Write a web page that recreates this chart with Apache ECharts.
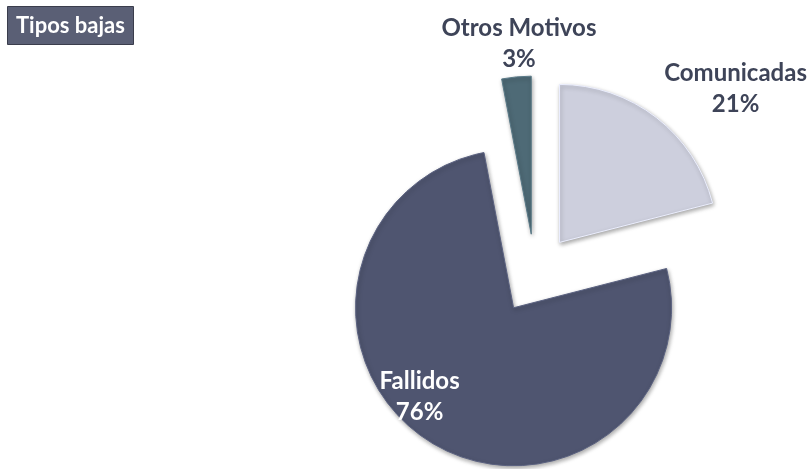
<!DOCTYPE html>
<html>
<head>
<meta charset="utf-8">
<script src="https://cdn.jsdelivr.net/npm/echarts@6/dist/echarts.min.js"></script>
<style>
  html, body { margin: 0; padding: 0; background: #fff; }
  #chart { width: 811px; height: 469px; }
</style>
</head>
<body>
<div id="chart"></div>
<script>
// datos del gráfico
const categories = ['Comunicadas', 'Fallidos', 'Otros Motivos']
const values = [21, 76, 3]
const colors = ['#cdcfdd', '#4f5570', '#4e6a76']
const labelColors = ['#3e4458', '#ffffff', '#3e4458']

// desplazamiento de cada etiqueta
const labelShift = [[35, -17], [-50, 20], [39, -18]]

const chart = echarts.init(document.getElementById('chart'))

chart.setOption({
  animation: false,
  title: {
    text: 'Tipos bajas',
    left: 7,
    top: 6,
    padding: [8, 9, 8, 9],
    backgroundColor: '#5a5f75',
    borderColor: '#3a3d4c',
    borderWidth: 1,
    textStyle: {
      color: '#ffffff',
      fontFamily: 'Lato',
      fontWeight: 'bold',
      fontSize: 22,
      lineHeight: 23
    }
  },
  series: [{
    type: 'pie',
    center: [535, 274],
    radius: 158,
    startAngle: 90,
    clockwise: true,
    selectedMode: 'multiple',
    selectedOffset: 40,
    avoidLabelOverlap: false,
    label: {
      show: true,
      formatter: '{b}\n{d}%',
      fontFamily: 'Lato',
      fontWeight: 'bold',
      fontSize: 24,
      lineHeight: 31,
      align: 'center'
    },
    labelLine: { show: false },
    labelLayout: function (params) {
      const s = labelShift[params.dataIndex]
      return { dx: s[0], dy: s[1], align: 'center' }
    },
    emphasis: { disabled: true },
    data: categories.map((name, i) => ({
      name: name,
      value: values[i],
      selected: true,
      itemStyle: {
        color: colors[i],
        borderColor: echarts.color.lift(colors[i], -0.15),
        borderWidth: 1,
        shadowBlur: 4,
        shadowColor: 'rgba(0,0,0,0.35)',
        shadowOffsetX: 1,
        shadowOffsetY: 2
      },
      label: {
        position: i === 1 ? 'inside' : 'outside',
        color: labelColors[i]
      }
    }))
  }]
})
</script>
</body>
</html>
